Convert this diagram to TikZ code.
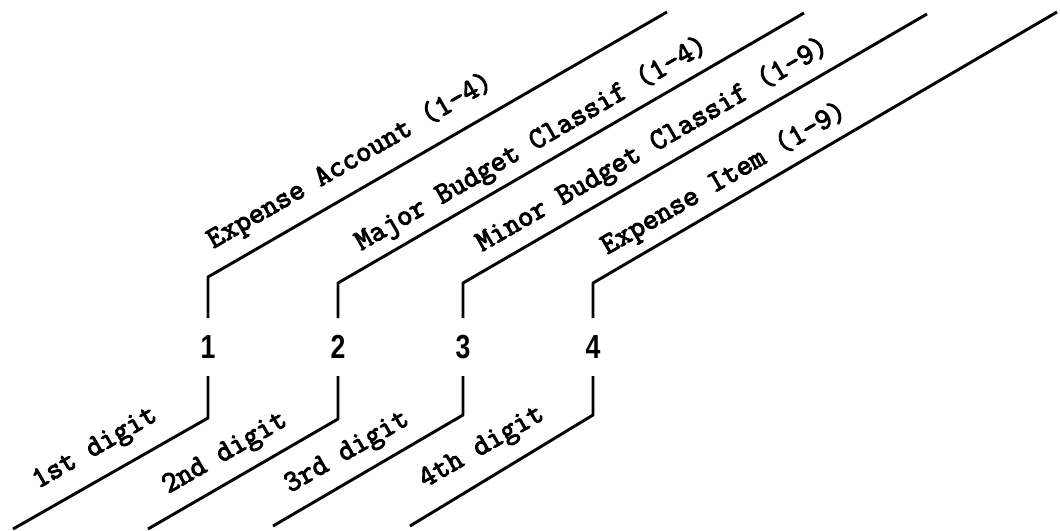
\documentclass[tikz,border=0pt]{standalone}
\usepackage{fontspec}
\newfontfamily\labelfont[FakeBold=3.5]{Latin Modern Mono}
\newfontfamily\digitfont[FakeStretch=0.8]{Liberation Sans}
\begin{document}
\begin{tikzpicture}[x=0.75pt,y=-0.75pt,
  bar/.style={line width=2.2pt,line join=round},
  lbl/.style={font=\labelfont\fontsize{22.5}{26}\selectfont,rotate=30,anchor=base west,inner sep=0pt},
  dig/.style={font=\digitfont\bfseries\fontsize{25}{29}\selectfont,minimum height=43.5pt,inner sep=0pt,outer sep=0pt}]
\useasboundingbox (0,0) rectangle (1060,531);
% digits
\node[dig] (d1) at (208,347) {1};
\node[dig] (d2) at (338,347) {2};
\node[dig] (d3) at (463,347) {3};
\node[dig] (d4) at (593,347) {4};
% corners and ends
\coordinate (c1) at (208,277); \coordinate (e1) at (667,12);
\coordinate (c2) at (338,283); \coordinate (e2) at (804,13);
\coordinate (c3) at (463,283); \coordinate (e3) at (927,14);
\coordinate (c4) at (593,283); \coordinate (e4) at (1057,12);
\coordinate (k1) at (208,418); \coordinate (f1) at (13,529);
\coordinate (k2) at (338,419); \coordinate (f2) at (148,529);
\coordinate (k3) at (463,415); \coordinate (f3) at (273,526);
\coordinate (k4) at (593,415); \coordinate (f4) at (410,526);
% brackets
\draw[bar] (d1.north) -- (c1) -- (e1);
\draw[bar] (d2.north) -- (c2) -- (e2);
\draw[bar] (d3.north) -- (c3) -- (e3);
\draw[bar] (d4.north) -- (c4) -- (e4);
\draw[bar] (d1.south) -- (k1) -- (f1);
\draw[bar] (d2.south) -- (k2) -- (f2);
\draw[bar] (d3.south) -- (k3) -- (f3);
\draw[bar] (d4.south) -- (k4) -- (f4);
% labels
\node[lbl] (t1) at (213,249) {Expense Account (1-4)};
\node[lbl] (t2) at (361,251) {Major Budget Classif (1-4)};
\node[lbl] (t3) at (482,252) {Minor Budget Classif (1-9)};
\node[lbl] (t4) at (607,255) {Expense Item (1-9)};
\node[lbl] (b1) at (38,489) {1st digit};
\node[lbl] (b2) at (168,494) {2nd digit};
\node[lbl] (b3) at (290,493) {3rd digit};
\node[lbl] (b4) at (425,488) {4th digit};
\end{tikzpicture}
\end{document}
